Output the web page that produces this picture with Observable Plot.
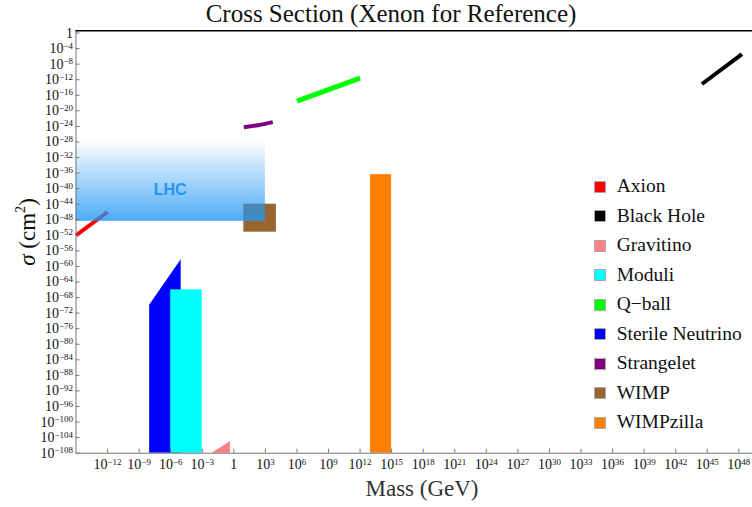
<!DOCTYPE html>
<html>
<head>
<meta charset="utf-8">
<script src="https://cdn.jsdelivr.net/npm/d3@7"></script>
<script src="https://cdn.jsdelivr.net/npm/@observablehq/plot@0.6"></script>
<style>
  html, body { margin: 0; padding: 0; background: white; }
  #wrap { position: relative; width: 752px; height: 507px; overflow: hidden; background: white; }
  #chart { position: absolute; top: 0; left: 0; }
  #title { position: absolute; top: 1px; left: 391px; transform: translateX(-50%); white-space: nowrap;
           font-family: "Liberation Serif", serif; font-size: 25px; line-height: 25px; color: #111; }
  #xlabel { position: absolute; top: 477px; left: 422px; transform: translateX(-50%); white-space: nowrap;
           font-family: "Liberation Serif", serif; font-size: 23px; line-height: 23px; color: #333; }
  #ylabel { position: absolute; top: 232px; left: 27px; transform: translate(-50%, -50%) rotate(-90deg); white-space: nowrap;
           font-family: "Liberation Serif", serif; font-size: 23px; line-height: 23px; color: #111; }
  #ylabel sup { font-size: 0.62em; vertical-align: 0.7em; line-height: 0; }
  #legend { position: absolute; left: 594px; top: 172px; font-family: "Liberation Serif", serif; font-size: 19.5px; color: #111; }
  .item { position: relative; height: 29.5px; }
  .sw { position: absolute; left: 0; top: 8.5px; width: 10px; height: 10px; border: 1px solid #aaa; }
  .lab { position: absolute; left: 22.7px; top: 1px; line-height: 25px; white-space: nowrap; }
</style>
</head>
<body>
<div id="wrap">
  <div id="chart"></div>
  <div id="title">Cross Section (Xenon for Reference)</div>
  <div id="xlabel">Mass (GeV)</div>
  <div id="ylabel"><i>σ</i> (cm<sup>2</sup>)</div>
  <div id="legend"></div>
</div>
<script>
// ---- data (log10 values) ----
const xTickExps = [-12, -9, -6, -3, 0, 3, 6, 9, 12, 15, 18, 21, 24, 27, 30, 33, 36, 39, 42, 45, 48];
const yTickExps = [0, -4, -8, -12, -16, -20, -24, -28, -32, -36, -40, -44, -48, -52, -56, -60, -64, -68, -72, -76, -80, -84, -88, -92, -96, -100, -104, -108];

const legendNames  = ["Axion", "Black Hole", "Gravitino", "Moduli", "Q\u2212ball", "Sterile Neutrino", "Strangelet", "WIMP", "WIMPzilla"];
const legendColors = ["#ff0000", "#000000", "#ff8080", "#00ffff", "#00ff00", "#0000ff", "#800080", "#996633", "#ff8000"];

// line-like regions: mass exponents and cross-section exponents
const axionMass = [-15, -12],          axionSigma = [-52, -46];
const strangeletMass = [0.95, 2.3, 3.7], strangeletSigma = [-24.2, -23.7, -22.9];
const qballMass = [6, 12],             qballSigma = [-17.5, -11.6];
const blackHoleMass = [44.5, 48.3],    blackHoleSigma = [-13.1, -5.4];

// box regions [massLo, massHi, sigmaLo, sigmaHi]
const lhcBox      = [-15, 3, -48.4, -28];
const wimpBox     = [0.95, 4.05, -51.2, -44];
const moduliBox   = [-6, -3, -108, -66];
const wimpzillaBox = [13, 15, -108, -36.4];

// wedge regions: mass exponents, lower and upper sigma exponents
const sterileMass = [-8, -5],          sterileLow = [-108, -108], sterileHigh = [-70, -58.3];
const gravitinoMass = [-2.06, -0.32],  gravitinoLow = [-108, -108], gravitinoHigh = [-108, -105];

const lhcLabel = {m: -6.05, s: -40.3, text: "LHC"};

const xDomainExp = [-15, 49.3];
const yDomainExp = [-108, 0.57];
// ------------------------------

const P = e => Math.pow(10, e);
const toLine = (ms, ss) => ms.map((m, i) => ({x: P(m), y: P(ss[i])}));
const toBox = b => [{x1: P(b[0]), x2: P(b[1]), y1: P(b[2]), y2: P(b[3])}];
const toWedge = (ms, lo, hi) => ms.map((m, i) => ({x: P(m), y1: P(lo[i]), y2: P(hi[i])}));

const fmt = d => {
  const e = Math.round(Math.log10(d));
  return e === 0 ? "1" : "10^" + (e < 0 ? "\u2212" + (-e) : String(e));
};

const defs = () => {
  const s = d3.create("svg:defs");
  const g = s.append("linearGradient").attr("id", "lhcgrad")
    .attr("x1", 0).attr("y1", 0).attr("x2", 0).attr("y2", 1);
  g.append("stop").attr("offset", "0%").attr("stop-color", "#2196f3").attr("stop-opacity", 0.02);
  g.append("stop").attr("offset", "100%").attr("stop-color", "#2196f3").attr("stop-opacity", 0.8);
  return s.node();
};

const xTicks = xTickExps.map(P);
const yTicks = yTickExps.map(P);

const plot = Plot.plot({
  width: 752,
  height: 507,
  marginTop: 30.3,
  marginLeft: 75.5,
  marginRight: 0,
  marginBottom: 54.3,
  x: {type: "log", domain: xDomainExp.map(P)},
  y: {type: "log", domain: yDomainExp.map(P)},
  style: {fontFamily: "Liberation Serif, serif", fontSize: "14px", background: "white", color: "#111", overflow: "visible"},
  marks: [
    defs,
    // regions
    Plot.rect(toBox(wimpBox), {x1: "x1", x2: "x2", y1: "y1", y2: "y2", fill: legendColors[7]}),
    Plot.line(toLine(axionMass, axionSigma), {x: "x", y: "y", stroke: legendColors[0], strokeWidth: 4, strokeLinecap: "butt"}),
    Plot.rect(toBox(lhcBox), {x1: "x1", x2: "x2", y1: "y1", y2: "y2", fill: "url(#lhcgrad)"}),
    Plot.text([lhcLabel], {x: d => P(d.m), y: d => P(d.s), text: "text", fill: "#2196f3",
      fontFamily: "Liberation Sans, Arial, sans-serif", fontWeight: "bold", fontSize: 16}),
    Plot.line(toLine(strangeletMass, strangeletSigma), {x: "x", y: "y", stroke: legendColors[6], strokeWidth: 4, strokeLinecap: "butt", curve: "natural"}),
    Plot.line(toLine(qballMass, qballSigma), {x: "x", y: "y", stroke: legendColors[4], strokeWidth: 5, strokeLinecap: "butt"}),
    Plot.line(toLine(blackHoleMass, blackHoleSigma), {x: "x", y: "y", stroke: legendColors[1], strokeWidth: 4, strokeLinecap: "butt"}),
    Plot.areaY(toWedge(sterileMass, sterileLow, sterileHigh), {x: "x", y1: "y1", y2: "y2", fill: legendColors[5]}),
    Plot.rect(toBox(moduliBox), {x1: "x1", x2: "x2", y1: "y1", y2: "y2", fill: legendColors[3]}),
    Plot.areaY(toWedge(gravitinoMass, gravitinoLow, gravitinoHigh), {x: "x", y1: "y1", y2: "y2", fill: legendColors[2]}),
    Plot.rect(toBox(wimpzillaBox), {x1: "x1", x2: "x2", y1: "y1", y2: "y2", fill: legendColors[8]}),
    // frame lines
    Plot.ruleX([P(xDomainExp[0])], {stroke: "#777", strokeWidth: 1}),
    Plot.ruleY([P(yDomainExp[0])], {stroke: "#777", strokeWidth: 1}),
    Plot.ruleY([P(yDomainExp[1])], {stroke: "#000", strokeWidth: 1.5}),
    // axes: labels
    Plot.axisY(yTicks, {anchor: "left", tickSize: 0, tickPadding: 3, tickFormat: fmt, label: null, fontSize: 14}),
    Plot.axisX(xTicks, {anchor: "bottom", tickSize: 0, tickPadding: 6, tickFormat: fmt, label: null, fontSize: 14}),
    // axes: inward ticks
    Plot.axisY(yTicks, {anchor: "left", tickSize: 4, dx: 4, tickFormat: () => "", label: null, stroke: "#777"}),
    Plot.axisX(xTicks, {anchor: "bottom", tickSize: 4, dy: -4, tickFormat: () => "", label: null, stroke: "#777"})
  ]
});

// superscript exponents in tick labels
d3.select(plot).selectAll("text").each(function () {
  const t = this.textContent;
  if (t.startsWith("10^")) {
    const exp = t.slice(3);
    const sel = d3.select(this);
    sel.text("");
    sel.append("tspan").text("10");
    sel.append("tspan").attr("dy", "-0.5em").attr("font-size", "0.64em").text(exp);
  }
});

document.getElementById("chart").appendChild(plot);

const legend = d3.select("#legend");
legendNames.forEach((n, i) => {
  const it = legend.append("div").attr("class", "item");
  it.append("div").attr("class", "sw").style("background", legendColors[i]);
  it.append("div").attr("class", "lab").text(n);
});
</script>
</body>
</html>
